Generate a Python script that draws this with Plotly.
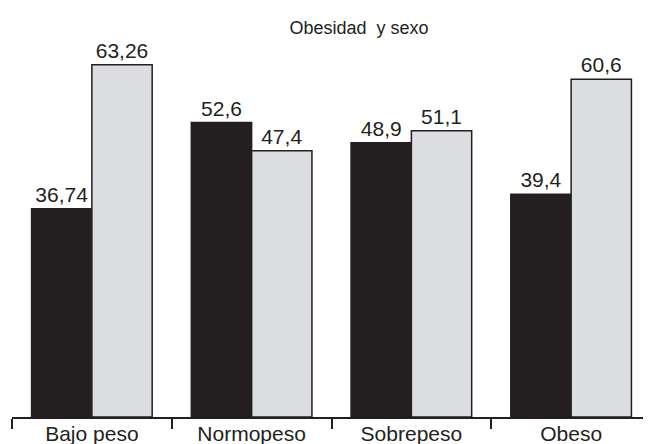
import plotly.graph_objects as go

categories = ["Bajo peso", "Normopeso", "Sobrepeso", "Obeso"]
serie_oscura = [36.74, 52.6, 48.9, 39.4]
serie_clara = [63.26, 47.4, 51.1, 60.6]
titulo = "Obesidad\u00a0 y sexo"

Y_MIN = -1.66
Y_MAX = 66.9
INK = "#231f20"
FONT = "Liberation Sans, Arial, Helvetica, sans-serif"

# page body has an 8px default margin; figure sized to fit the window
W, H = 643, 436

def etiquetas(vals):
    return [str(v).replace(".", ",") for v in vals]

fig = go.Figure()
for vals, color in [(serie_oscura, INK), (serie_clara, "#dcdde0")]:
    fig.add_trace(go.Bar(
        x=categories,
        y=[v - Y_MIN for v in vals],
        base=Y_MIN,
        marker=dict(color=color, line=dict(color=INK, width=1.5)),
        text=etiquetas(vals),
        textposition="outside",
        textfont=dict(size=21, color=INK, family=FONT),
        cliponaxis=False,
        hoverinfo="skip",
    ))

fig.update_layout(
    width=W, height=H,
    margin=dict(l=4, r=0, t=37, b=26.5),
    barmode="group",
    bargap=0.245,
    bargroupgap=0,
    showlegend=False,
    plot_bgcolor="white",
    paper_bgcolor="white",
    font=dict(family=FONT, color=INK),
    title=dict(text=titulo, x=(359 - 12) / 639, xref="paper", xanchor="center",
               y=1 - 20 / H, yref="container", yanchor="middle",
               font=dict(size=18, color=INK, family=FONT)),
    xaxis=dict(
        range=[-0.5, 3.5],
        showline=True, linecolor=INK, linewidth=1.5,
        ticks="outside", tickson="boundaries", ticklen=10, tickwidth=1.5, tickcolor=INK,
        tickfont=dict(size=21, color=INK, family=FONT),
        ticklabelstandoff=-3,
        showgrid=False, zeroline=False,
    ),
    yaxis=dict(range=[Y_MIN, Y_MAX], visible=False, showgrid=False, zeroline=False),
)

fig.write_html("out.html")
